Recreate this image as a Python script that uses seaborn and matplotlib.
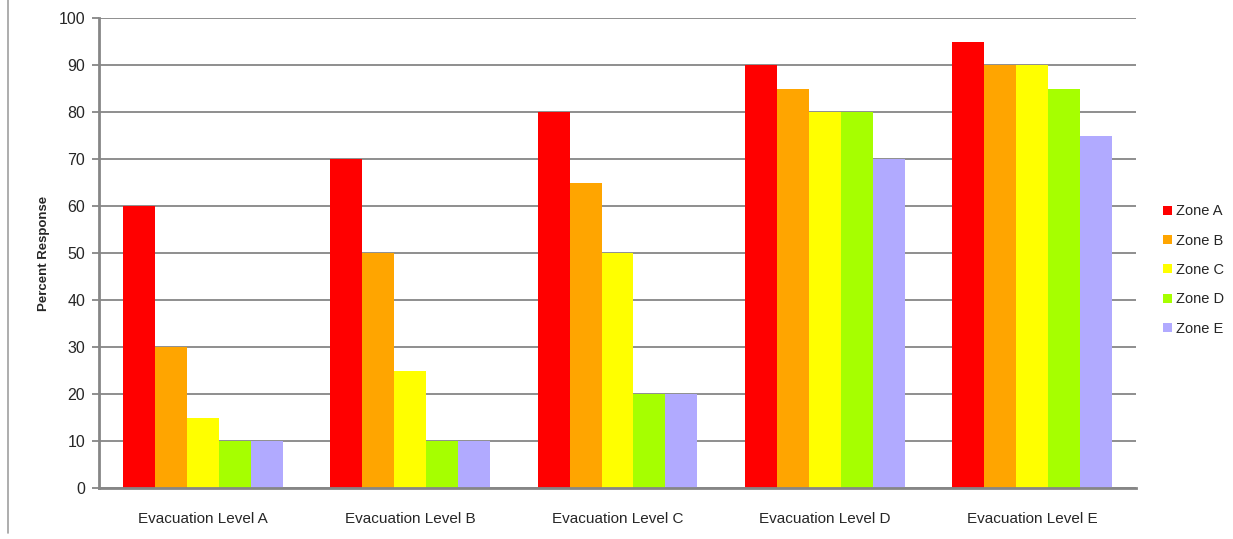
import matplotlib
matplotlib.use("Agg")
import matplotlib.pyplot as plt
from matplotlib.lines import Line2D
from matplotlib.patches import Patch
import seaborn as sns
import pandas as pd

levels = ["Evacuation Level A", "Evacuation Level B", "Evacuation Level C",
          "Evacuation Level D", "Evacuation Level E"]
zones = ["Zone A", "Zone B", "Zone C", "Zone D", "Zone E"]
zone_a = [60, 70, 80, 90, 95]
zone_b = [30, 50, 65, 85, 90]
zone_c = [15, 25, 50, 80, 90]
zone_d = [10, 10, 20, 80, 85]
zone_e = [10, 10, 20, 70, 75]
colors = ["#FF0000", "#FFA500", "#FFFF00", "#A6FF00", "#B1AAFF"]

rows = []
for zone, vals in zip(zones, [zone_a, zone_b, zone_c, zone_d, zone_e]):
    for lvl, v in zip(levels, vals):
        rows.append({"Level": lvl, "Zone": zone, "Value": v})
df = pd.DataFrame(rows)

sns.set_style("white")
plt.rcParams["font.family"] = ["Liberation Sans", "DejaVu Sans"]

fig = plt.figure(figsize=(12.33, 5.39), dpi=100)
ax = fig.add_axes([99 / 1233, 1 - 488 / 539, (1136 - 99) / 1233, (488 - 18) / 539])

sns.barplot(data=df, x="Level", y="Value", hue="Zone", order=levels,
            hue_order=zones, palette=colors, width=0.77, gap=0,
            saturation=1, linewidth=0, ax=ax, legend=False, zorder=3)

ax.set_ylim(0, 100)
ax.set_xlim(-0.5, 4.5)
ax.set_yticks(range(0, 101, 10))
ax.yaxis.grid(True, color="#868686", linewidth=1.3, zorder=0)
ax.set_axisbelow(True)
for s in ["top", "right"]:
    ax.spines[s].set_visible(False)
for s in ["left", "bottom"]:
    ax.spines[s].set_color("#868686")
    ax.spines[s].set_linewidth(2)
    ax.spines[s].set_zorder(4)
ax.tick_params(axis="y", which="both", left=True, length=5, width=1.3,
               color="#868686", labelsize=11.5, pad=5)
ax.tick_params(axis="x", bottom=False, labelsize=11, pad=14)
ax.set_xlabel("")
ax.set_ylabel("Percent Response", fontsize=9.5, fontweight="bold", labelpad=6)

handles = [Patch(facecolor=c, edgecolor="none") for c in colors]
fig.legend(handles, zones, loc="center left", bbox_to_anchor=(1150 / 1233, 1 - 270 / 539),
           frameon=False, fontsize=10.5, handlelength=0.6, handleheight=0.6,
           handletextpad=0.25, labelspacing=1.05)

fig.add_artist(Line2D([8 / 1233, 8 / 1233], [0.012, 1.0], transform=fig.transFigure,
                      color="#A0A0A0", linewidth=1.2))

fig.savefig("out.png", dpi=100)
